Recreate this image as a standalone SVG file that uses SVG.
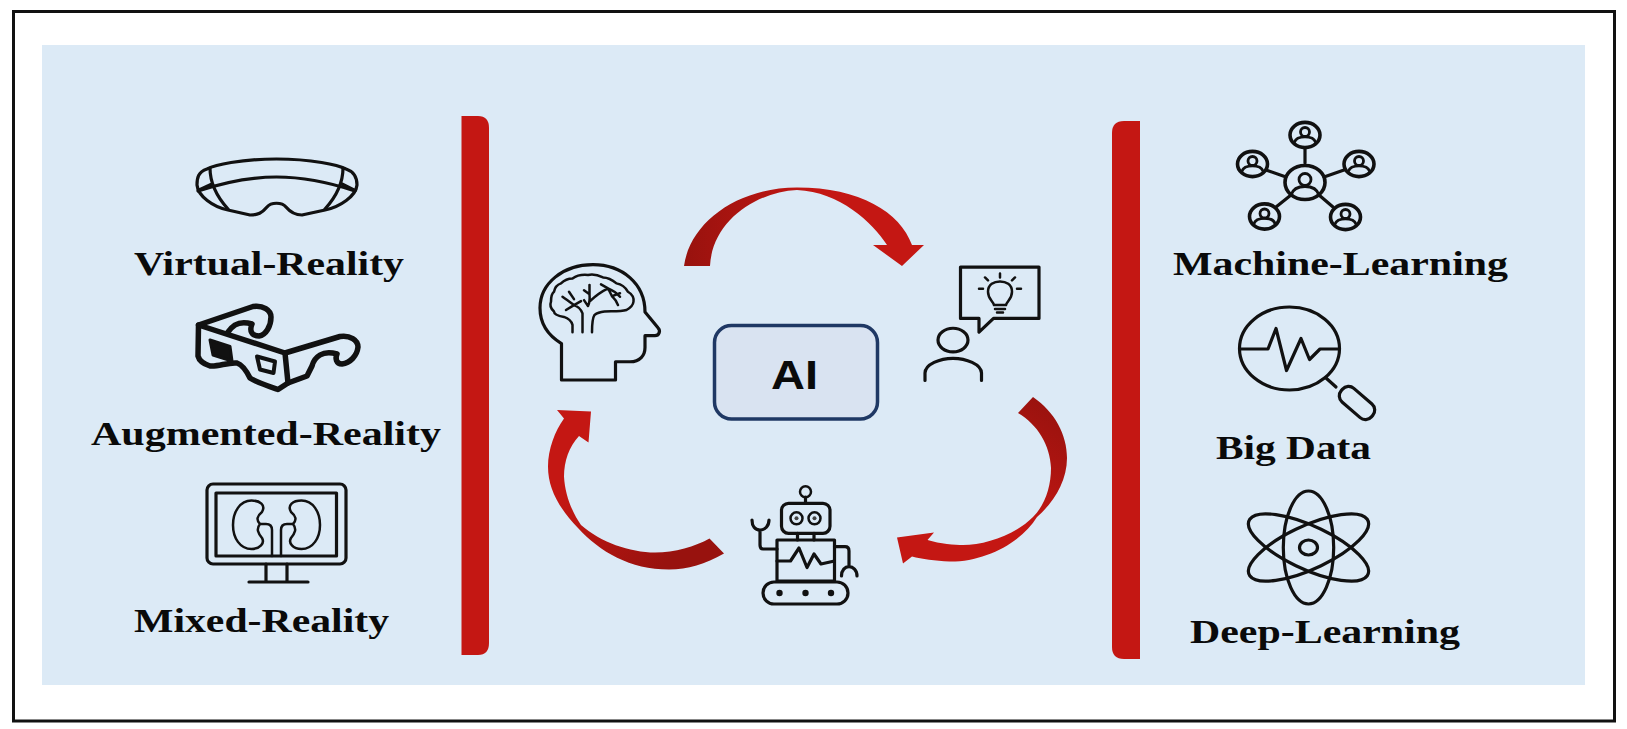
<svg xmlns="http://www.w3.org/2000/svg" xmlns:xlink="http://www.w3.org/1999/xlink" width="1627" height="729" viewBox="0 0 1627 729">
<style>
.lbl{font-family:"Liberation Serif","Times New Roman",serif;font-weight:700;font-size:34px;fill:#0a0a0a}
.ic{fill:none;stroke:#111;stroke-width:3.200;stroke-linecap:round;stroke-linejoin:round}
.th{stroke-width:2.500}
.hv{stroke-width:5.500}
.bar{fill:#c41713}
</style>
<defs>
<linearGradient id="gTop" gradientUnits="userSpaceOnUse" x1="684" y1="230" x2="924" y2="230"><stop offset="0" stop-color="#98120e"/><stop offset="0.55" stop-color="#c41713"/></linearGradient>
<linearGradient id="gRight" gradientUnits="userSpaceOnUse" x1="1050" y1="400" x2="950" y2="560"><stop offset="0" stop-color="#98120e"/><stop offset="0.65" stop-color="#c41713"/></linearGradient>
<linearGradient id="gLeft" gradientUnits="userSpaceOnUse" x1="710" y1="560" x2="560" y2="420"><stop offset="0.15" stop-color="#98120e"/><stop offset="0.75" stop-color="#c41713"/></linearGradient>
<g id="user"><ellipse cx="0" cy="0" rx="15" ry="12.600" class="ic" style="stroke-width:3.600"/><circle cx="0" cy="-3" r="4.500" class="ic" style="stroke-width:2.800"/><path d="M-10.500,7 C-9,2.500 -4,1.800 0,1.800 C4,1.800 9,2.500 10.500,7" class="ic" style="stroke-width:2.800"/></g>
</defs>
<rect id="frame" x="13.500" y="11.500" width="1601" height="709.500" fill="#fff" stroke="#111" stroke-width="3"/>
<rect id="panel" x="42" y="45" width="1543" height="640" fill="#dceaf6"/>
<g id="bar-left"><path class="bar" d="M461.500,116 H478 Q489,116 489,128 V643 Q489,655 478,655 H461.500Z"/></g>
<g id="bar-right"><path class="bar" d="M1140,121 H1124 Q1112,121 1112,133 V647 Q1112,659 1124,659 H1140Z"/></g>
<g id="connectors">
<path fill="url(#gTop)" d="M684,266 C690,222 738,187.500 797,187.500 C860,187.500 900,212 912,245 L924,245 L902,266 L873,245 L887,245 C872,222 840,192 797,190 C755,192 712,222 710,266Z"/>
<path fill="url(#gRight)" d="M1033,397 C1055,412 1067,435 1067,458 C1067,482 1053,503 1037,517 C1022,542 985,562 949.500,561.500 C935,561 922,559 912,556.500 L903,563.500 L897,537.500 L934,532.500 L927.500,540 C940,544 955,545 963,545 C985,545 1015,535 1033,517 C1045,505 1051,487 1051,468 C1050,445 1038,425 1018,413Z"/>
<path fill="url(#gLeft)" d="M709.500,538.500 L724,553.500 C705,564 688,569.500 669,569.500 C630,569.500 600,552 578,528 C558,507 548,488 548,466.500 C548,449 555,431 564,418.500 L557,410 L591,411.500 L588.500,442.500 L579,436 C569,447 564,461 564,476.500 C565,495 572,512 581,525 C600,542 630,552.500 655,552.500 C675,552.500 695,546.500 709.500,538.500Z"/>
</g>
<g id="node-ai"><rect x="714.500" y="325.500" width="163" height="93.500" rx="17" fill="#d9e3f1" stroke="#1f3864" stroke-width="3.500"/><text x="771" y="388.500" textLength="47" lengthAdjust="spacingAndGlyphs" font-family="'Liberation Sans',Arial,sans-serif" font-weight="700" font-size="41" fill="#0a0a0a">AI</text></g>
<g id="node-vr">
<path class="ic" d="M276.500,159 C240,159 215,165 207,169 C198,172 197,178 197,185 C198,196 213,207 228,210 L250,215 C258,215 262,213 267,207 C271,202 282,202 286,207 C291,213 296,215 302,215 L325,210 C340,207 356,196 357,185 C357,178 355,172 346,169 C338,165 312,159 276.500,159Z"/>
<path class="ic" d="M198,191 C225,182 250,177 276.500,177 C303,177 328,182 355,191"/>
<path class="ic" d="M210,168 C210,185 218,198 228,209 M343,168 C343,185 335,198 325,209 M199,190 L212,184 M354,190 L342,184"/>
<text class="lbl" x="134" y="275" textLength="270" lengthAdjust="spacingAndGlyphs">Virtual-Reality</text>
</g>
<g id="node-ar">
<path class="ic hv" d="M198.500,325 L285,353 L288,383 L278,389.500 C268,386 256,382 250,378 C247,372 243,365 237,363 C228,362 218,367 210,366 C204,364 199,360 198,356Z"/>
<path class="ic hv" d="M198.500,325 L253,306.500 C263,305 271,310 271,317 C271,326 266,335 259,336 C252,336 249,331 252,324 C245,322 240,322 235,325 C232,327 230,329 228,332"/>
<path class="ic hv" d="M285,353 L340,336.500 C350,335 358,340 358,347 C357,356 350,363 342,364 C336,364 335,358 337,354 C330,352 325,352 320,355 C315,358 313,362 312,366 L307,376 L288,383"/>
<path d="M210,340 L230,346.500 L232,361 L213,355Z" fill="#111" stroke="#111" stroke-width="3" stroke-linejoin="round"/>
<path class="ic" style="stroke-width:4" d="M257,356.500 L275,361.500 L273.500,373 L260,369.500Z"/>
<text class="lbl" x="91" y="445" textLength="350" lengthAdjust="spacingAndGlyphs">Augmented-Reality</text>
</g>
<g id="node-mr">
<rect class="ic" x="207" y="484" width="139" height="80" rx="6"/>
<rect class="ic" x="216" y="493" width="120.500" height="63"/>
<path class="ic th" d="M272,556 V530 Q272,524 266,524 H260 C256,520 257,516 262,512 C266,505 260,500.500 251.500,500.500 C240,500.500 233,512 233,525 C233,538 240,549 251.500,549 C260,549 265,543 262,538 C258,533 256,529 260,524"/>
<path class="ic th" d="M281,556 V530 Q281,524 287,524 H293 C297,520 296,516 291,512 C287,505 293,500.500 301.500,500.500 C313,500.500 320,512 320,525 C320,538 313,549 301.500,549 C293,549 288,543 291,538 C295,533 297,529 293,524"/>
<path class="ic" d="M266,564 V582 M287,564 V582 M249,582 H308"/>
<text class="lbl" x="134" y="632" textLength="255" lengthAdjust="spacingAndGlyphs">Mixed-Reality</text>
</g>
<g id="node-brain" transform="translate(0,2.380) scale(1,0.986)">
<path class="ic" d="M561.500,346 V383 H615.500 V364.500 H630 C640,364.500 645,358 645,350 V338 H655 C659,338 661,333 658,330 L645,314 C645,285 622,266 593,266 C563,266 540,285 540,310 C540,327 550,339 561.500,346Z"/>
<path class="ic th" d="M572.500,334.500 V327 C571,322 567,320 564,319 C558,318 554,316 554,313.500 C550,310 550,306 551,303.500 C551,298 552,295 554,293.500 C555,288 558,286 561,285 C565,281 569,280 572.500,280 C578,276 583,276 588,276.500 C594,275 599,277 603,279 C609,279 613,282 616.500,285 C622,286 626,290 628,293.500 C632,296 634,300 633.500,303.500 C633,308 630,310 626.500,312 C620,314 610,313 604.500,313.500 C600,314 597,315 594.500,317 C592,321 592,328 592,334.500"/>
<path class="ic th" d="M582.500,334.500 V315.500 C581,311 577,308 574,307 C570,304 566,301 562.500,298.500 M566,312 L574,307 M569,293.500 L574,301 M574,307 L581,303 M589.500,286.500 V296 C590,302 589,306 588,308 M588,308 L584,302 M589.500,296 L584,292 M590,303 C596,297 602,293 608,290 C613,292 617,295 620,298.500 M608,290 L601,286 M608,290 L612,298 C615,301 617,304 618,307 M612,298 L620,295"/>
</g>
<g id="node-person" transform="translate(0,2.380) scale(1,0.986)">
<ellipse class="ic" cx="953" cy="342.500" rx="15" ry="12"/>
<path class="ic" d="M925,383.500 V376 C925,367 940,361 953,361 C966,361 981.500,367 981.500,376 V383.500"/>
<path class="ic" d="M960.500,268.500 H1039 V320.500 H993.500 L979,334.500 V320.500 H960.500Z"/>
<path class="ic th" d="M994,307 C993,303 988,301 988,293.500 C988,286 994,283 1000,283 C1006,283 1012,286 1012,293.500 C1012,301 1007,303 1006,307Z M995,311 H1005 M997,314.500 H1003 M1000,275 V279 M985,279 L988,282 M1015,279 L1012,282 M979,290.500 H983 M1021,290.500 H1017"/>
</g>
<g id="node-robot">
<circle class="ic th" cx="805.500" cy="491.700" r="5.500"/>
<path class="ic" d="M805.500,497 V503.300"/>
<rect class="ic" x="781.500" y="503.300" width="48.500" height="30" rx="7"/>
<circle class="ic th" cx="796.500" cy="518.300" r="6"/><circle cx="796.500" cy="518.300" r="2" fill="#444"/>
<circle class="ic th" cx="814.500" cy="518.300" r="6"/><circle cx="814.500" cy="518.300" r="2" fill="#444"/>
<path class="ic" d="M797.500,533.300 V540 M814,533.300 V540"/>
<rect class="ic" x="777" y="540" width="57.500" height="41"/>
<path class="ic" d="M777,561 H790.500 L799,548 L807,567.500 L814,554 L821,564 L834.500,561"/>
<path class="ic" d="M777,549 H763 Q760,549 760,545 V530 M752,520 C752,526 755,530 760,530 C765,530 769,526 769,520"/>
<path class="ic" d="M834.500,546.700 H845 Q849,546.700 849,551 V566.700 M841.500,576 C841.500,570 845,566.700 849,566.700 C853,566.700 857,570 857,576"/>
<rect class="ic" x="763" y="582" width="85" height="22" rx="11"/>
<circle cx="779.500" cy="593" r="3.200" fill="#111"/><circle cx="805.500" cy="593" r="3.200" fill="#111"/><circle cx="831" cy="593" r="3.200" fill="#111"/>
</g>
<g id="node-ml">
<path class="ic" d="M1305,148 V163 M1266,170 L1286,177 M1344,170 L1324,177 M1276,207 L1291,195 M1333,207 L1319,195"/>
<ellipse class="ic" cx="1305" cy="182.500" rx="20" ry="17" style="stroke-width:3.600"/>
<circle class="ic" cx="1305" cy="179.500" r="6" style="stroke-width:2.800"/>
<path class="ic" d="M1291,195 C1293,188.500 1299,186.500 1305,186.500 C1311,186.500 1317,188.500 1319,195" style="stroke-width:2.800"/>
<use xlink:href="#user" x="1305" y="135"/>
<use xlink:href="#user" x="1252.500" y="164"/>
<use xlink:href="#user" x="1359" y="164"/>
<use xlink:href="#user" x="1264.500" y="216.500"/>
<use xlink:href="#user" x="1345.500" y="217"/>
<text class="lbl" x="1173" y="275" textLength="335" lengthAdjust="spacingAndGlyphs">Machine-Learning</text>
</g>
<g id="node-bigdata">
<ellipse class="ic" cx="1289.500" cy="348.500" rx="50" ry="41.500"/>
<path class="ic" d="M1240,349 H1268 L1276,328.500 L1286.500,370.500 L1301,338.500 L1309.500,359.500 L1320,349 H1338"/>
<path class="ic" d="M1326,378 L1336,387"/>
<rect class="ic" x="-20" y="-9" width="40" height="18" rx="8" transform="translate(1357,403) rotate(41)"/>
<text class="lbl" x="1216" y="459" textLength="155" lengthAdjust="spacingAndGlyphs">Big Data</text>
</g>
<g id="node-dl">
<g transform="translate(1308.500,547.500) scale(1.2,1)">
<ellipse class="ic" vector-effect="non-scaling-stroke" rx="21" ry="56.500"/>
<ellipse class="ic" vector-effect="non-scaling-stroke" rx="21" ry="56.500" transform="rotate(60)"/>
<ellipse class="ic" vector-effect="non-scaling-stroke" rx="21" ry="56.500" transform="rotate(-60)"/>
</g>
<ellipse class="ic" cx="1308.500" cy="547.500" rx="9" ry="7.500"/>
<text class="lbl" x="1190" y="643" textLength="270" lengthAdjust="spacingAndGlyphs">Deep-Learning</text>
</g>
</svg>
